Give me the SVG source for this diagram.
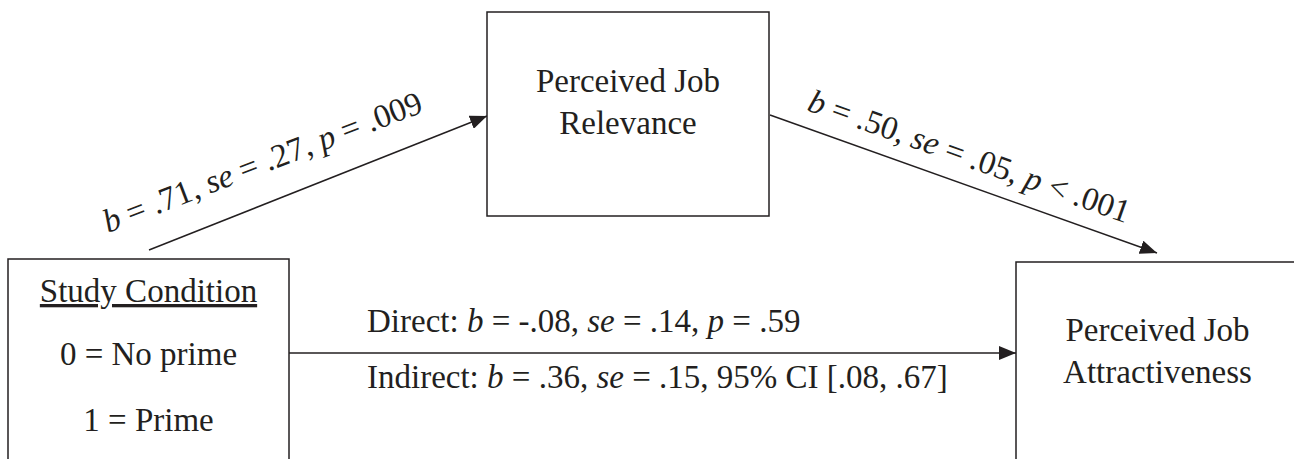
<svg xmlns="http://www.w3.org/2000/svg" width="1294" height="459" viewBox="0 0 1294 459">
<style>
  .box { fill: #ffffff; stroke: #231f20; stroke-width: 1.5; }
  .conn { stroke: #231f20; stroke-width: 1.5; fill: none; marker-end: url(#arrow); }
  text { font-family: "Liberation Serif", "Times New Roman", serif; font-size: 33px; fill: #231f20; }
  .c { text-anchor: middle; }
  .i { font-style: italic; }
</style>
<defs>
  <marker id="arrow" markerUnits="userSpaceOnUse" markerWidth="17" markerHeight="14" refX="17" refY="7" orient="auto">
    <path d="M0,0 L17,7 L0,14 Z" fill="#231f20"/>
  </marker>
</defs>
<rect width="1294" height="459" fill="#ffffff"/>
<g id="connectors">
  <line class="conn" x1="149" y1="250" x2="487" y2="116"/>
  <line class="conn" x1="770" y1="115" x2="1157" y2="253"/>
  <line class="conn" x1="289" y1="353" x2="1016" y2="353"/>
  <text transform="rotate(-21 108 233)" x="108" y="233"><tspan class="i">b</tspan> = .71, <tspan class="i">se</tspan> = .27, <tspan class="i">p</tspan> = .009</text>
  <text transform="rotate(19.5 806 110)" x="806" y="110"><tspan class="i">b</tspan> = .50, <tspan class="i">se</tspan> = .05, <tspan class="i">p</tspan> &lt; .001</text>
  <text x="367" y="332">Direct: <tspan class="i">b</tspan> = -.08, <tspan class="i">se</tspan> = .14, <tspan class="i">p</tspan> = .59</text>
  <text x="367" y="388">Indirect: <tspan class="i">b</tspan> = .36, <tspan class="i">se</tspan> = .15, 95% CI [.08, .67]</text>
</g>
<g id="study-condition">
  <rect class="box" x="8" y="259" width="281" height="220"/>
  <text class="c" x="148.5" y="302" text-decoration="underline">Study Condition</text>
  <text class="c" x="148.5" y="365">0 = No prime</text>
  <text class="c" x="148.5" y="431">1 = Prime</text>
</g>
<g id="job-relevance">
  <rect class="box" x="487" y="12" width="282" height="204"/>
  <text class="c" x="628" y="92">Perceived Job</text>
  <text class="c" x="628" y="134">Relevance</text>
</g>
<g id="job-attractiveness">
  <rect class="box" x="1016" y="262" width="300" height="220"/>
  <text class="c" x="1157.5" y="341">Perceived Job</text>
  <text class="c" x="1157.5" y="383">Attractiveness</text>
</g>
</svg>
